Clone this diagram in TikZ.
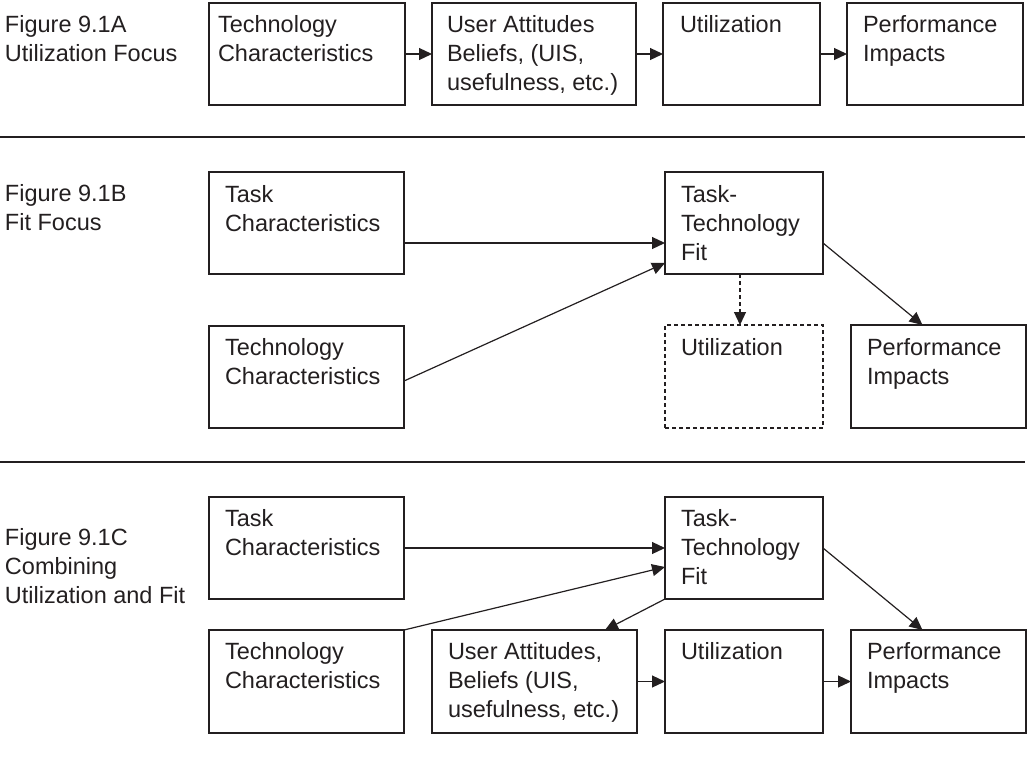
\documentclass[tikz,border=0pt]{standalone}
\usepackage{fontspec}
\setmainfont{Liberation Sans}
\usetikzlibrary{arrows.meta}
\definecolor{ink}{HTML}{231F20}
% a left-aligned text block whose baseline is that of its first line
\newcommand\tblock[1]{\begin{tabular}[t]{@{}l@{}}#1\end{tabular}}
\begin{document}
\begin{tikzpicture}[x=1pt,y=-1pt,
  box/.style={draw=ink, line width=1.3pt, rectangle, inner sep=0pt, outer sep=0pt, anchor=north west},
  dbox/.style={box, dash pattern=on 4pt off 3pt},
  txt/.style={anchor=base west, inner sep=0pt, outer sep=0pt, text=ink,
              font=\fontsize{23.5}{29}\selectfont},
  link/.style={draw=ink, line width=1.2pt, -{Triangle[length=13pt,width=12pt]}},
  dlink/.style={link, dash pattern=on 4pt off 3pt},
  rule/.style={draw=ink, line width=1.2pt},
]
\useasboundingbox (0,0) rectangle (1028,763);

% ---------- 9.1A: utilization focus ----------
\node[txt] (la) at (5,32) {\tblock{Figure 9.1A\\Utilization Focus}};
\node[box, minimum width=196pt, minimum height=102pt] (a1) at (209,3) {};
\node[box, minimum width=204pt, minimum height=102pt] (a2) at (432,3) {};
\node[box, minimum width=157pt, minimum height=102pt] (a3) at (663,3) {};
\node[box, minimum width=176pt, minimum height=102pt] (a4) at (847,3) {};
\node[txt] (a1t) at (218,32) {\tblock{Technology\\Characteristics}};
\node[txt] (a2t) at (447,32) {\tblock{User Attitudes\\Beliefs, (UIS,\\usefulness, etc.)}};
\node[txt] (a3t) at (680,32) {\tblock{Utilization}};
\node[txt] (a4t) at (863,32) {\tblock{Performance\\Impacts}};
\draw[link] (a1.east) -- (a2.west);
\draw[link] (a2.east) -- (a3.west);
\draw[link] (a3.east) -- (a4.west);

\coordinate (r1a) at (0,137);
\coordinate (r1b) at (1025,137);
\draw[rule] (r1a) -- (r1b);

% ---------- 9.1B: fit focus ----------
\node[txt] (lb) at (5,201) {\tblock{Figure 9.1B\\Fit Focus}};
\node[box, minimum width=195pt, minimum height=102pt] (b1) at (209,172) {};
\node[box, minimum width=195pt, minimum height=102pt] (b2) at (209,326) {};
\node[box, minimum width=158pt, minimum height=102pt] (b3) at (665,172) {};
\node[dbox, minimum width=158pt, minimum height=103pt] (b4) at (665,325) {};
\node[box, minimum width=175pt, minimum height=103pt] (b5) at (851,325) {};
\node[txt] (b1t) at (225,202) {\tblock{Task\\Characteristics}};
\node[txt] (b2t) at (225,355) {\tblock{Technology\\Characteristics}};
\node[txt] (b3t) at (681,202) {\tblock{Task-\\Technology\\Fit}};
\node[txt] (b4t) at (681,355) {\tblock{Utilization}};
\node[txt] (b5t) at (867,355) {\tblock{Performance\\Impacts}};
\draw[link] ([yshift=-20pt]b1.east) -- ([yshift=-20pt]b3.west);
\draw[link] ([yshift=-4pt]b2.east) -- ([yshift=-40pt]b3.west);
\draw[link] ([yshift=-20pt]b3.east) -- ([xshift=-16pt]b5.north);
\draw[dlink] ([xshift=-4pt]b3.south) -- ([xshift=-4pt]b4.north);

\coordinate (r2a) at (0,462);
\coordinate (r2b) at (1025,462);
\draw[rule] (r2a) -- (r2b);

% ---------- 9.1C: combining utilization and fit ----------
\node[txt] (lc) at (5,545) {\tblock{Figure 9.1C\\Combining\\Utilization and Fit}};
\node[box, minimum width=195pt, minimum height=102pt] (c1) at (209,497) {};
\node[box, minimum width=195pt, minimum height=103pt] (c2) at (209,630) {};
\node[box, minimum width=158pt, minimum height=102pt] (c3) at (665,497) {};
\node[box, minimum width=205pt, minimum height=103pt] (c4) at (432,630) {};
\node[box, minimum width=158pt, minimum height=103pt] (c5) at (665,630) {};
\node[box, minimum width=175pt, minimum height=103pt] (c6) at (851,630) {};
\node[txt] (c1t) at (225,526) {\tblock{Task\\Characteristics}};
\node[txt] (c2t) at (225,659) {\tblock{Technology\\Characteristics}};
\node[txt] (c3t) at (681,526) {\tblock{Task-\\Technology\\Fit}};
\node[txt] (c4t) at (448,659) {\tblock{User Attitudes,\\Beliefs (UIS,\\usefulness, etc.)}};
\node[txt] (c5t) at (681,659) {\tblock{Utilization}};
\node[txt] (c6t) at (867,659) {\tblock{Performance\\Impacts}};
\draw[link] (c1.east) -- (c3.west);
\draw[link] (c2.north east) -- ([yshift=-19pt]c3.west);
\draw[link] (c3.south west) -- ([xshift=-32pt]c4.north east);
\draw[link] (c3.east) -- ([xshift=-16pt]c6.north);
\draw[link] (c4.east) -- (c5.west);
\draw[link] (c5.east) -- (c6.west);
\end{tikzpicture}
\end{document}
